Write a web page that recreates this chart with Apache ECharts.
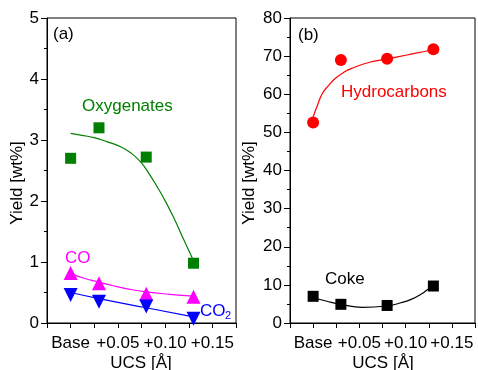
<!DOCTYPE html>
<html>
<head>
<meta charset="utf-8">
<script src="https://cdn.jsdelivr.net/npm/echarts@6/dist/echarts.min.js"></script>
<style>html,body{margin:0;padding:0;background:#fff;}#c{width:478px;height:370px;}</style>
</head>
<body>
<div id="c"></div>
<script>
// ---- data ----
var xValues = [0, 0.03, 0.08, 0.13];
var oxygenates = [2.70, 3.20, 2.72, 0.98];
var co = [0.82, 0.65, 0.48, 0.43];
var co2 = [0.46, 0.35, 0.27, 0.07];
var hydrocarbons = [52.6, 69.0, 69.3, 71.8];
var coke = [7.0, 4.9, 4.6, 9.7];

// fitted curves
var oxyFitX = [0, 0.0106, 0.0247, 0.0388, 0.0529, 0.0635, 0.0741, 0.0829, 0.0917, 0.1005, 0.1093, 0.1199, 0.1298];
var oxyFitY = [3.11, 3.08, 3.04, 2.97, 2.89, 2.79, 2.64, 2.45, 2.23, 1.99, 1.72, 1.36, 1.03];
var coFitX = [0, 0.015, 0.03, 0.045, 0.06, 0.08, 0.105, 0.13];
var coFitY = [0.81, 0.73, 0.67, 0.61, 0.56, 0.51, 0.47, 0.44];
var co2FitX = [0, 0.03, 0.08, 0.13];
var co2FitY = [0.50, 0.40, 0.25, 0.10];
var hydroFitX = [0, 0.0048, 0.01, 0.0171, 0.0242, 0.0329, 0.0416, 0.061, 0.0785, 0.1013, 0.1276, 0.13];
var hydroFitY = [54.1, 57.2, 60.2, 62.4, 64.2, 65.7, 66.8, 68.4, 69.2, 70.3, 71.6, 71.8];
var cokeFitX = [0, 0.015, 0.03, 0.053, 0.079, 0.095, 0.106, 0.117, 0.125, 0.13];
var cokeFitY = [6.7, 5.7, 4.9, 4.1, 4.46, 5.3, 6.2, 7.6, 9.0, 9.7];

var xTickValues = [0, 0.05, 0.10, 0.15];
var xTickLabels = ['Base', '+0.05', '+0.10', '+0.15'];

function zip(xs, ys) { return xs.map(function (x, i) { return [x, ys[i]]; }); }

var FONT = 'Liberation Sans, Arial, sans-serif';
var chart = echarts.init(document.getElementById('c'), null, {renderer: 'canvas'});

function xLabel(v) {
  for (var i = 0; i < xTickValues.length; i++) {
    if (Math.abs(v - xTickValues[i]) < 1e-6) return xTickLabels[i];
  }
  return '';
}

function xAxisDef(idx) {
  return {
    type: 'value', gridIndex: idx, min: -0.025, max: 0.175, interval: 0.025,
    axisLine: {show: true, onZero: false, lineStyle: {color: '#000', width: 1}},
    axisTick: {show: true, inside: false, length: 5, lineStyle: {color: '#000'}},
    axisLabel: {formatter: xLabel, color: '#000', fontSize: 17, fontFamily: FONT, margin: 12, showMinLabel: true, showMaxLabel: true},
    splitLine: {show: false}
  };
}
function yAxisDef(idx, max, interval) {
  return {
    type: 'value', gridIndex: idx, min: 0, max: max, interval: interval,
    axisLine: {show: true, onZero: false, lineStyle: {color: '#000', width: 1}},
    axisTick: {show: true, inside: false, length: 6, lineStyle: {color: '#000'}},
    minorTick: {show: true, splitNumber: 2, length: 3, lineStyle: {color: '#000'}},
    axisLabel: {color: '#000', fontSize: 17, fontFamily: FONT, margin: 8},
    splitLine: {show: false}
  };
}

function fitLine(xi, yi, xs, ys, color) {
  return {type: 'line', xAxisIndex: xi, yAxisIndex: yi, data: zip(xs, ys), smooth: 0.5,
    showSymbol: false, symbol: 'none', lineStyle: {color: color, width: 1.2}, z: 2, silent: true};
}
function points(xi, yi, ys, color, symbol, size, rotate) {
  return {type: 'scatter', xAxisIndex: xi, yAxisIndex: yi, data: zip(xValues, ys), symbol: symbol,
    symbolSize: size, symbolRotate: rotate || 0, itemStyle: {color: color, opacity: 1}, z: 3, silent: true};
}

function txt(x, y, text, color, size, align, rot) {
  return {type: 'text', x: x, y: y, rotation: rot || 0, z: 10,
    style: {text: text, fill: color, font: size + 'px ' + FONT, align: align || 'left', verticalAlign: 'middle'}};
}

chart.setOption({
  animation: false,
  backgroundColor: '#fff',
  grid: [
    {left: 47, top: 18, width: 189, height: 305, show: true, borderColor: '#000', borderWidth: 1, containLabel: false},
    {left: 290, top: 18, width: 190, height: 305, show: true, borderColor: '#000', borderWidth: 1, containLabel: false}
  ],
  xAxis: [xAxisDef(0), xAxisDef(1)],
  yAxis: [yAxisDef(0, 5, 1), yAxisDef(1, 80, 10)],
  series: [
    fitLine(0, 0, oxyFitX, oxyFitY, '#008000'),
    fitLine(0, 0, coFitX, coFitY, '#ff00ff'),
    fitLine(0, 0, co2FitX, co2FitY, '#0000ff'),
    fitLine(1, 1, hydroFitX, hydroFitY, '#ff0000'),
    fitLine(1, 1, cokeFitX, cokeFitY, '#000000'),
    points(0, 0, oxygenates, '#008000', 'rect', 11),
    points(0, 0, co, '#ff00ff', 'triangle', 14),
    points(0, 0, co2, '#0000ff', 'triangle', 14, 180),
    points(1, 1, hydrocarbons, '#ff0000', 'circle', 12),
    points(1, 1, coke, '#000000', 'rect', 11)
  ],
  graphic: [
    txt(53, 34, '(a)', '#000', 17),
    txt(298, 35, '(b)', '#000', 17),
    txt(82, 106, 'Oxygenates', '#008000', 17),
    txt(65, 258, 'CO', '#ff00ff', 17),
    txt(200, 311, 'CO', '#0000ff', 17),
    txt(225, 316, '2', '#0000ff', 11),
    txt(341, 92, 'Hydrocarbons', '#ff0000', 17),
    txt(325, 279, 'Coke', '#000', 17),
    txt(17, 183, 'Yield [wt%]', '#000', 17, 'center', Math.PI / 2),
    txt(249, 183, 'Yield [wt%]', '#000', 17, 'center', Math.PI / 2),
    txt(141, 363, 'UCS [Å]', '#000', 17, 'center'),
    txt(383, 363, 'UCS [Å]', '#000', 17, 'center')
  ]
});
</script>
</body>
</html>
